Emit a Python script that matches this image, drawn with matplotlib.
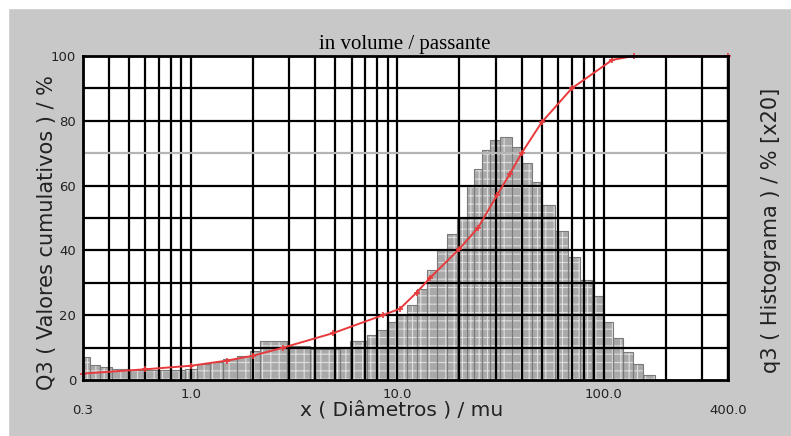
import numpy as np
import matplotlib.pyplot as plt
from matplotlib.patches import Rectangle
from matplotlib.ticker import NullLocator

# histogram (q3, x20) : bin edges in mu and bar heights in %
binedges = [0.300, 0.324, 0.363, 0.415, 0.507, 0.708, 0.936, 1.07, 1.24, 1.43,
            1.67, 1.93, 2.16, 2.92, 3.77, 5.27, 5.90, 7.13, 7.97, 8.91,
            9.96, 11.1, 12.4, 13.9, 15.6, 17.4, 19.5, 21.8, 23.5, 25.7,
            28.1, 31.4, 35.9, 40.2, 44.9, 50.2, 58.1, 67.1, 76.8, 87.7,
            99.2, 111., 124., 139., 155., 177.]
q3 = [7, 4.5, 4, 3.5, 3, 3, 3.5, 5, 5.5, 6.5,
      7.5, 9, 12, 10.5, 9.5, 10, 12, 14, 15.5, 18,
      20, 23, 28, 34, 40, 45, 50, 60, 65, 71,
      74, 75, 72, 67, 61, 54, 46, 38, 31, 26,
      18, 13, 8.5, 5, 1.5]

# cumulative curve Q3
dcum = [0.3, 0.6, 1.0, 1.5, 2.0, 2.8, 4.9, 8.5, 10.3, 12.4, 14.4, 20.0,
        24.6, 30.4, 35.0, 40.0, 50.0, 70.0, 110.0, 140.0, 400.0]
Q3 = [2.0, 3.3, 4.4, 6.0, 7.5, 10.0, 14.5, 20.0, 22.0, 27.0, 31.5, 40.5,
      47.0, 57.0, 63.5, 70.0, 79.5, 90.0, 98.8, 100.0, 100.0]

xticks = [0.3, 1.0, 10.0, 100.0, 400.0]
xticklabels = ['0.3', '1.0', '10.0', '100.0', '400.0']
yticks = [0, 20, 40, 60, 80, 100]

plt.rcParams['hatch.linewidth'] = 0.8

W, H = 791, 436
fig = plt.figure(figsize=(W/100, H/100), dpi=100)
fig.patch.set_facecolor('#c8c8c8')
# white scan border
fig.add_artist(Rectangle((0, 1-8/H), 1, 8/H, transform=fig.transFigure, color='white', zorder=0))
fig.add_artist(Rectangle((0, 0), 8/W, 1, transform=fig.transFigure, color='white', zorder=0))

ax = fig.add_axes([83/W, 56/H, 645/W, 324/H])
ax.set_facecolor('white')
ax.set_xscale('log')
ax.set_xlim(0.3, 400)
ax.set_ylim(0, 100)

left = np.array(binedges[:-1])
right = np.array(binedges[1:])
ax.bar(left, q3, width=right-left, align='edge', color='#a9a9a9', edgecolor='#dedede',
       hatch='++', linewidth=0, zorder=2)
ax.bar(left, q3, width=right-left, align='edge', fill=False, edgecolor='#7a7a7a',
       linewidth=0.8, zorder=2)

# log grid
gridx = [m*10.0**e for e in (-1, 0, 1, 2) for m in range(1, 10)]
gridx = [g for g in gridx if 0.3 <= g <= 400] + [400.0]
for g in gridx:
    ax.axvline(g, color='black', lw=1.6, zorder=3)
for v in range(10, 100, 10):
    ax.axhline(v, color='#b4b4b4' if v == 70 else 'black', lw=1.6, zorder=3)

ax.plot(dcum, Q3, color='#e83a3c', lw=1.4, marker='+', ms=5, mew=1.2, zorder=5, clip_on=False)

for s in ax.spines.values():
    s.set_linewidth(2)
    s.set_zorder(6)

ax.xaxis.set_minor_locator(NullLocator())
ax.set_xticks(xticks)
ax.set_xticklabels(xticklabels, fontsize=9.5, color='#222222')
ax.set_yticks(yticks)
ax.set_yticklabels([str(v) for v in yticks], fontsize=9.5, color='#222222')
ax.tick_params(length=0)
ax.tick_params(axis='y', pad=5)
for i, t in enumerate(ax.xaxis.get_major_ticks()):
    t.set_pad(17 if i in (0, 4) else 6)

fig.text(405/W, 1-45/H, 'in volume / passante', family='Liberation Serif', fontsize=15,
         ha='center', va='center')
fig.text(402/W, 1-410/H, 'x ( Diâmetros ) / mu', fontsize=14.5, ha='center', va='center', color='#222222')
fig.text(47/W, 1-233/H, 'Q3 ( Valores cumulativos ) / %', fontsize=15, rotation=90,
         ha='center', va='center', color='#222222')
fig.text(771/W, 1-230/H, 'q3 ( Histograma ) / % [x20]', fontsize=15, rotation=90,
         ha='center', va='center', color='#222222')

plt.savefig('out.png', dpi=100, facecolor=fig.get_facecolor())
